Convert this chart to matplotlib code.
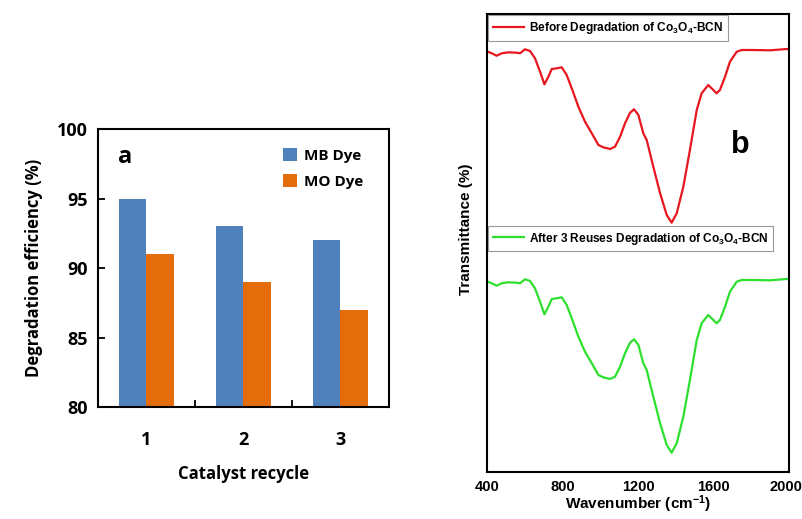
import matplotlib
matplotlib.use("Agg")
import matplotlib.pyplot as plt
import matplotlib.transforms as mtransforms
import numpy as np

plt.rcParams["mathtext.fontset"] = "custom"
plt.rcParams["mathtext.rm"] = "Liberation Sans:bold"
plt.rcParams["mathtext.bf"] = "Liberation Sans:bold"
plt.rcParams["mathtext.it"] = "Liberation Sans:bold"

# ---- Panel a data ----
cycles = ["1", "2", "3"]
mb_dye = [95, 93, 92]
mo_dye = [91, 89, 87]

# ---- Panel b data (arbitrary transmittance units) ----
wavenumber = [404, 425, 451, 478, 513, 557, 575, 601, 628, 654, 681, 704, 725, 743, 769,
              796, 822, 849, 884, 919, 955, 990, 1016, 1052, 1078, 1105, 1131, 1158, 1179,
              1202, 1228, 1246, 1281, 1317, 1352, 1378, 1405, 1440, 1475, 1511, 1537, 1572,
              1599, 1616, 1634, 1661, 1687, 1723, 1749, 1811, 1899, 1988, 2000]
t_before = [420.3, 418.7, 416.3, 418.7, 419.7, 419.3, 418.7, 422.7, 421.0, 413.7, 400.3,
            387.7, 395.3, 403.0, 403.7, 404.7, 397.0, 383.7, 365.3, 350.3, 338.7, 327.0,
            324.7, 323.0, 325.3, 335.3, 348.7, 359.3, 362.7, 357.0, 338.7, 332.0, 305.3,
            278.7, 257.0, 249.3, 258.7, 285.3, 322.0, 362.0, 378.7, 387.0, 382.0, 378.7,
            382.0, 395.3, 410.3, 420.3, 422.0, 422.0, 421.7, 423.0, 423.0]
t_after = [190.3, 188.7, 186.3, 188.7, 189.7, 189.3, 188.7, 192.7, 191.0, 183.7, 170.3,
           157.7, 165.3, 173.0, 173.7, 174.7, 167.0, 153.7, 135.3, 120.3, 108.7, 97.0,
           94.7, 93.0, 95.3, 105.3, 118.7, 129.3, 132.7, 127.0, 108.7, 102.0, 75.3,
           48.7, 27.0, 19.3, 28.7, 55.3, 92.0, 132.0, 148.7, 157.0, 152.0, 148.7,
           152.0, 165.3, 180.3, 190.3, 192.0, 192.0, 191.7, 193.0, 193.0]
wn_ticks = [400, 800, 1200, 1600, 2000]

fig = plt.figure(figsize=(8.03, 5.19), dpi=100)

# ---------------- Panel a ----------------
fa = "Open Sans"
ax1 = fig.add_axes([0.122, 0.2158, 0.3624, 0.5356])
x = np.arange(len(cycles))
w = 0.28
ax1.bar(x - w / 2, mb_dye, w, color="#4F81BD", label="MB Dye")
ax1.bar(x + w / 2, mo_dye, w, color="#E46C0A", label="MO Dye")
ax1.set_xlim(-0.5, 2.5)
ax1.set_ylim(80, 100)
ax1.set_yticks([80, 85, 90, 95, 100])
ax1.set_xticks(x)
ax1.set_xticklabels(cycles)
ax1.set_xticks([0.5, 1.5], minor=True)
ax1.tick_params(axis="x", which="major", length=0, pad=17)
ax1.tick_params(axis="x", which="minor", direction="in", length=5, width=1.3)
ax1.tick_params(axis="y", direction="in", length=5, width=1.3, pad=7)
for lab in ax1.get_xticklabels() + ax1.get_yticklabels():
    lab.set_fontfamily(fa)
    lab.set_fontweight("bold")
    lab.set_fontsize(13)
for sp in ax1.spines.values():
    sp.set_linewidth(1.5)
ax1.set_ylabel("Degradation efficiency (%)", fontfamily=fa, fontweight="bold",
               fontsize=12, labelpad=10)
ax1.set_xlabel("Catalyst recycle", fontfamily=fa, fontweight="bold",
               fontsize=12, labelpad=12)
ax1.text(0.07, 0.9, "a", transform=ax1.transAxes, fontfamily=fa,
         fontweight="bold", fontsize=17, va="center", ha="left")
ax1.legend(loc="upper right", frameon=False, handlelength=0.9, handleheight=0.9,
           prop={"family": fa, "weight": "bold", "size": 11},
           bbox_to_anchor=(0.96, 0.98), labelspacing=0.75, handletextpad=0.5)

# ---------------- Panel b ----------------
fb = "Liberation Sans"
ax2 = fig.add_axes([0.6065, 0.0906, 0.3761, 0.8824])
l1, = ax2.plot(wavenumber, t_before, color="#E8161E", lw=1.6)
l2, = ax2.plot(wavenumber, t_after, color="#2EE02E", lw=1.6)
ax2.set_xlim(400, 2000)
ax2.set_ylim(0, 458)
ax2.set_xticks(wn_ticks)
ax2.set_yticks([])
ax2.tick_params(axis="x", length=0, pad=6)
for lab in ax2.get_xticklabels():
    lab.set_fontfamily(fb)
    lab.set_fontweight("bold")
    lab.set_fontsize(10.5)
last = ax2.get_xticklabels()[-1]
last.set_transform(last.get_transform() +
                   mtransforms.ScaledTranslation(-3 / 100, 0, fig.dpi_scale_trans))
for sp in ax2.spines.values():
    sp.set_linewidth(1.5)
ax2.set_ylabel("Transmittance (%)", fontfamily=fb, fontweight="bold", fontsize=11)
ax2.yaxis.set_label_coords(-0.045, 0.53)
ax2.set_xlabel("Wavenumber (cm$^{-1}$)", fontfamily=fb,
               fontweight="bold", fontsize=11, labelpad=-1)
ax2.text(0.84, 0.715, "b", transform=ax2.transAxes, fontfamily=fb,
         fontweight="bold", fontsize=22, va="center", ha="center")

lp = {"family": fb, "weight": "bold", "size": 8.6}
lg_a = ax2.legend([l1], ["Before Degradation of Co$_3$O$_4$-BCN"],
                  loc="upper left", bbox_to_anchor=(0.0, 1.0), prop=lp,
                  fancybox=False, edgecolor="#999999", framealpha=1,
                  handlelength=2.6, handletextpad=0.4, borderpad=0.4, borderaxespad=0.1)
lg_a.get_frame().set_linewidth(0.8)
ax2.add_artist(lg_a)
lg_b = ax2.legend([l2], ["After 3 Reuses Degradation of Co$_3$O$_4$-BCN"],
                  loc="upper left", bbox_to_anchor=(0.0, 0.54), prop=lp,
                  fancybox=False, edgecolor="#999999", framealpha=1,
                  handlelength=2.6, handletextpad=0.4, borderpad=0.4, borderaxespad=0.1)
lg_b.get_frame().set_linewidth(0.8)

fig.savefig("out.png", dpi=100)
